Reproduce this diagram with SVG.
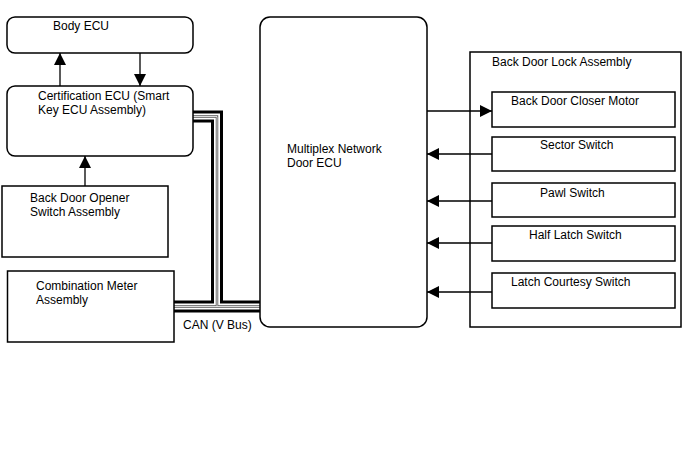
<svg xmlns="http://www.w3.org/2000/svg" width="688" height="463" viewBox="0 0 688 463">
<defs>
<style>
text{font-family:"Liberation Sans",Arial,sans-serif;font-size:12px;fill:#000}
.box{fill:#fff;stroke:#000;stroke-width:1.5}
.ln{fill:none;stroke:#000;stroke-width:1.3}
</style>
<marker id="ah" viewBox="0 0 10 10" refX="10" refY="5" markerWidth="12" markerHeight="12" markerUnits="userSpaceOnUse" orient="auto">
<path d="M0,0 L10,5 L0,10 z" fill="#000"/>
</marker>
</defs>
<rect width="688" height="463" fill="#fff"/>
<g id="connectors">
<g fill="none" stroke-linejoin="miter">
<path d="M193,116.5 H217 V306.5 M174,306.5 H260" stroke="#000" stroke-width="12"/>
<path d="M193,116.5 H217 V306.5 M174,306.5 H260" stroke="#fff" stroke-width="6"/>
<path d="M193,116.5 H217 V306.5 M174,306.5 H260" stroke="#555" stroke-width="2.5"/>
<path d="M193,116.5 H217 V306.5 M174,306.5 H260" stroke="#fff" stroke-width="0.8"/>
</g>
<line class="ln" x1="60" y1="86" x2="60" y2="53" marker-end="url(#ah)"/>
<line class="ln" x1="140" y1="53" x2="140" y2="86" marker-end="url(#ah)"/>
<line class="ln" x1="85" y1="186" x2="85" y2="156" marker-end="url(#ah)"/>
<line class="ln" x1="427" y1="111" x2="492" y2="111" marker-end="url(#ah)"/>
<line class="ln" x1="492" y1="154" x2="427" y2="154" marker-end="url(#ah)"/>
<line class="ln" x1="492" y1="201" x2="427" y2="201" marker-end="url(#ah)"/>
<line class="ln" x1="492" y1="243" x2="427" y2="243" marker-end="url(#ah)"/>
<line class="ln" x1="492" y1="292" x2="427" y2="292" marker-end="url(#ah)"/>
</g>
<g id="body-ecu">
<rect class="box" x="7" y="17" width="186" height="36" rx="8"/>
<text x="53" y="30">Body ECU</text>
</g>
<g id="certification-ecu">
<rect class="box" x="7" y="86" width="186" height="70" rx="8"/>
<text x="38" y="100">Certification ECU (Smart</text>
<text x="38" y="114">Key ECU Assembly)</text>
</g>
<g id="back-door-opener">
<rect class="box" x="2" y="186" width="166" height="71"/>
<text x="30" y="202">Back Door Opener</text>
<text x="30" y="216">Switch Assembly</text>
</g>
<g id="combination-meter">
<rect class="box" x="7.5" y="271" width="166.5" height="71"/>
<text x="36" y="290">Combination Meter</text>
<text x="36" y="304">Assembly</text>
</g>
<text x="183" y="329">CAN (V Bus)</text>
<g id="multiplex-ecu">
<rect class="box" x="260" y="17" width="167" height="310" rx="10"/>
<text x="287" y="153">Multiplex Network</text>
<text x="287" y="167">Door ECU</text>
</g>
<g id="back-door-lock-assembly">
<rect x="470" y="52" width="211" height="275" fill="none" stroke="#000" stroke-width="1.5"/>
<text x="492" y="66">Back Door Lock Assembly</text>
</g>
<g id="closer-motor">
<rect class="box" x="492" y="92" width="183" height="35"/>
<text x="511" y="105">Back Door Closer Motor</text>
</g>
<g id="sector-switch">
<rect class="box" x="492" y="137" width="183" height="34"/>
<text x="540" y="149">Sector Switch</text>
</g>
<g id="pawl-switch">
<rect class="box" x="492" y="183" width="183" height="34"/>
<text x="540" y="197">Pawl Switch</text>
</g>
<g id="half-latch-switch">
<rect class="box" x="492" y="226" width="183" height="35"/>
<text x="529" y="239">Half Latch Switch</text>
</g>
<g id="latch-courtesy-switch">
<rect class="box" x="492" y="273" width="183" height="35"/>
<text x="511" y="286">Latch Courtesy Switch</text>
</g>
</svg>
